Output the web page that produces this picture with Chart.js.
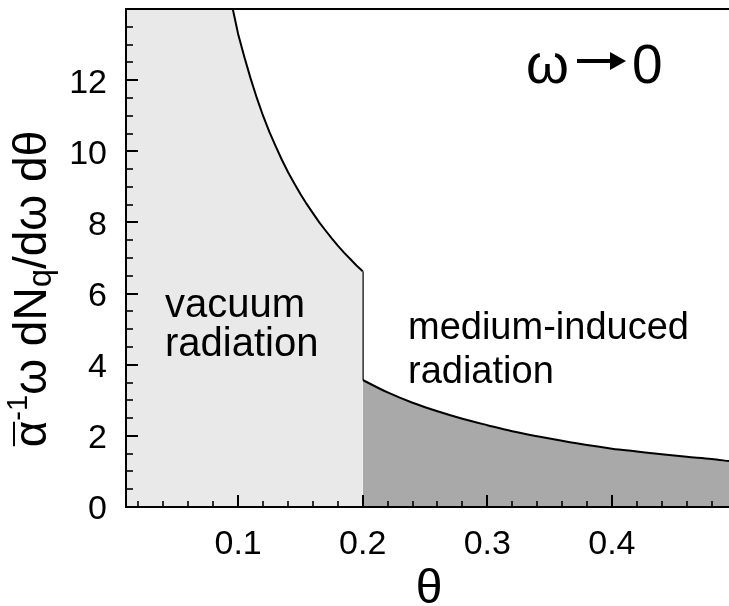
<!DOCTYPE html>
<html>
<head>
<meta charset="utf-8">
<script src="https://cdn.jsdelivr.net/npm/chart.js@4/dist/chart.umd.min.js"></script>
<style>
html,body{margin:0;padding:0;background:#fff;}
#wrap{width:729px;height:606px;}
</style>
</head>
<body>
<div id="wrap"><canvas id="c" width="729" height="606"></canvas></div>
<script>
// ---- data ----
const vacuumTheta  = [0.01, 0.0957, 0.100, 0.105, 0.110, 0.115, 0.120, 0.125, 0.130, 0.135, 0.140, 0.145, 0.150, 0.155, 0.160, 0.165, 0.170, 0.175, 0.180, 0.185, 0.190, 0.195, 0.200];
const vacuumValues = [14.0, 14.0, 13.3, 12.65, 12.05, 11.5, 11.0, 10.55, 10.15, 9.77, 9.42, 9.10, 8.80, 8.52, 8.26, 8.01, 7.78, 7.56, 7.35, 7.15, 6.97, 6.79, 6.63];
const jumpTheta    = [0.2, 0.2];
const jumpValues   = [6.63, 3.57];
const mediumTheta  = [0.20, 0.22, 0.24, 0.26, 0.28, 0.30, 0.32, 0.34, 0.36, 0.38, 0.40, 0.42, 0.44, 0.46, 0.48, 0.494];
const mediumValues = [3.57, 3.22, 2.93, 2.69, 2.48, 2.30, 2.13, 1.99, 1.86, 1.74, 1.64, 1.56, 1.48, 1.41, 1.35, 1.29];
const xTickLabels  = [0.1, 0.2, 0.3, 0.4];
const yTickLabels  = [0, 2, 4, 6, 8, 10, 12];
const xRange = [0.01, 0.494];
const yRange = [0, 14];
const yTitleParts = ['α', '-1', 'ω dN', 'q', '/dω dθ'];
const xTitle = 'θ';
const noteVacuum = ['vacuum', 'radiation'];
const noteMedium = ['medium-induced', 'radiation'];
const noteLimit = ['ω', '→', '0'];

const FONT = "'Liberation Sans', Arial, Helvetica, sans-serif";
const pts = (xs, ys) => xs.map((x, i) => ({x, y: ys[i]}));

const decor = {
  id: 'decor',
  afterDatasetsDraw(chart) {
    const {ctx, chartArea: a, scales: {x, y}} = chart;
    ctx.save();
    ctx.strokeStyle = '#000';
    ctx.lineCap = 'butt';
    // frame: left, bottom, top
    ctx.lineWidth = 2;
    ctx.beginPath();
    ctx.moveTo(a.left, a.top); ctx.lineTo(a.right, a.top);
    ctx.moveTo(a.left, a.top - 1); ctx.lineTo(a.left, a.bottom + 1);
    ctx.moveTo(a.left - 1, a.bottom); ctx.lineTo(a.right, a.bottom);
    ctx.stroke();
    // x ticks (inward)
    for (let k = 1; k * 0.02 <= xRange[1]; k++) {
      const v = Math.round(k * 0.02 * 100) / 100;
      if (v < xRange[0]) continue;
      const major = (k % 5 === 0);
      const px = Math.round(x.getPixelForValue(v));
      ctx.lineWidth = major ? 2 : 1.6;
      ctx.beginPath();
      ctx.moveTo(px, a.bottom);
      ctx.lineTo(px, a.bottom - (major ? 12 : 6));
      ctx.stroke();
    }
    // y ticks (inward)
    for (let k = 1; k * 0.5 <= yRange[1]; k++) {
      const v = k * 0.5;
      const major = (k % 4 === 0);
      const py = Math.round(y.getPixelForValue(v));
      ctx.lineWidth = major ? 2 : 1.6;
      ctx.beginPath();
      ctx.moveTo(a.left, py);
      ctx.lineTo(a.left + (major ? 12 : 7), py);
      ctx.stroke();
    }
    ctx.fillStyle = '#000';
    ctx.textBaseline = 'alphabetic';
    ctx.textAlign = 'left';
    // annotations
    ctx.font = '40px ' + FONT;
    ctx.fillText(noteVacuum[0], 165, 317);
    ctx.fillText(noteVacuum[1], 165, 356);
    ctx.font = '38px ' + FONT;
    ctx.fillText(noteMedium[0], 408, 339);
    ctx.fillText(noteMedium[1], 408, 383);
    ctx.font = '55px ' + FONT;
    ctx.fillText(noteLimit[0], 526, 83);
    ctx.fillText(noteLimit[2], 632, 83);
    // arrow
    ctx.lineWidth = 4;
    ctx.beginPath(); ctx.moveTo(577, 61); ctx.lineTo(612, 61); ctx.stroke();
    ctx.beginPath(); ctx.moveTo(626, 61); ctx.lineTo(610, 52); ctx.lineTo(610, 70); ctx.closePath(); ctx.fill();
    // x title
    ctx.font = '48px ' + FONT;
    ctx.textAlign = 'center';
    ctx.fillText(xTitle, 429, 603);
    // y title (rotated)
    ctx.save();
    ctx.translate(46, 289);
    ctx.rotate(-Math.PI / 2);
    ctx.textAlign = 'left';
    const parts = [
      {t: yTitleParts[0], s: 46, dy: 0, bar: true},
      {t: yTitleParts[1], s: 29, dy: -19},
      {t: yTitleParts[2], s: 46, dy: 0},
      {t: yTitleParts[3], s: 33, dy: 5},
      {t: yTitleParts[4], s: 46, dy: 0}
    ];
    let total = 0;
    parts.forEach(p => { ctx.font = p.s + 'px ' + FONT; p.w = ctx.measureText(p.t).width; total += p.w; });
    let cx = -total / 2;
    parts.forEach(p => {
      ctx.font = p.s + 'px ' + FONT;
      ctx.fillText(p.t, cx, p.dy);
      if (p.bar) {
        ctx.lineWidth = 2;
        ctx.beginPath(); ctx.moveTo(cx + 1, -32); ctx.lineTo(cx + p.w - 1, -32); ctx.stroke();
      }
      cx += p.w;
    });
    ctx.restore();
    ctx.restore();
  }
};

new Chart(document.getElementById('c'), {
  type: 'scatter',
  data: {
    datasets: [
      {
        data: pts(vacuumTheta, vacuumValues), showLine: true, tension: 0,
        fill: 'origin', backgroundColor: '#e9e9e9', borderColor: '#000', borderWidth: 2, pointRadius: 0
      },
      {
        data: pts(jumpTheta, jumpValues), showLine: true, tension: 0,
        fill: false, borderColor: '#000', borderWidth: 2, pointRadius: 0
      },
      {
        data: pts(mediumTheta, mediumValues), showLine: true, cubicInterpolationMode: 'monotone',
        fill: 'origin', backgroundColor: '#a9a9a9', borderColor: '#000', borderWidth: 2, pointRadius: 0
      }
    ]
  },
  options: {
    responsive: false,
    devicePixelRatio: 1,
    animation: false,
    events: [],
    layout: {padding: {left: 0, right: 0, top: 9, bottom: 0}},
    plugins: {legend: {display: false}, tooltip: {enabled: false}, title: {display: false}},
    scales: {
      x: {
        type: 'linear', min: xRange[0], max: xRange[1],
        afterBuildTicks: s => { s.ticks = xTickLabels.map(v => ({value: v})); },
        afterFit: s => { s.height = 99; s.paddingLeft = 0; s.paddingRight = 0; },
        ticks: {font: {family: FONT, size: 34}, color: '#000', padding: 17, maxRotation: 0, autoSkip: false,
                callback: v => v.toFixed(1)},
        grid: {display: false, drawTicks: false},
        border: {display: true, color: '#000', width: 2}
      },
      y: {
        type: 'linear', min: yRange[0], max: yRange[1],
        afterBuildTicks: s => { s.ticks = yTickLabels.map(v => ({value: v})); },
        afterFit: s => { s.width = 126; s.paddingTop = 0; s.paddingBottom = 0; },
        ticks: {font: {family: FONT, size: 34}, color: '#000', padding: 19, labelOffset: 3, autoSkip: false},
        grid: {display: false, drawTicks: false},
        border: {display: true, color: '#000', width: 2}
      }
    }
  },
  plugins: [decor]
});
</script>
</body>
</html>
